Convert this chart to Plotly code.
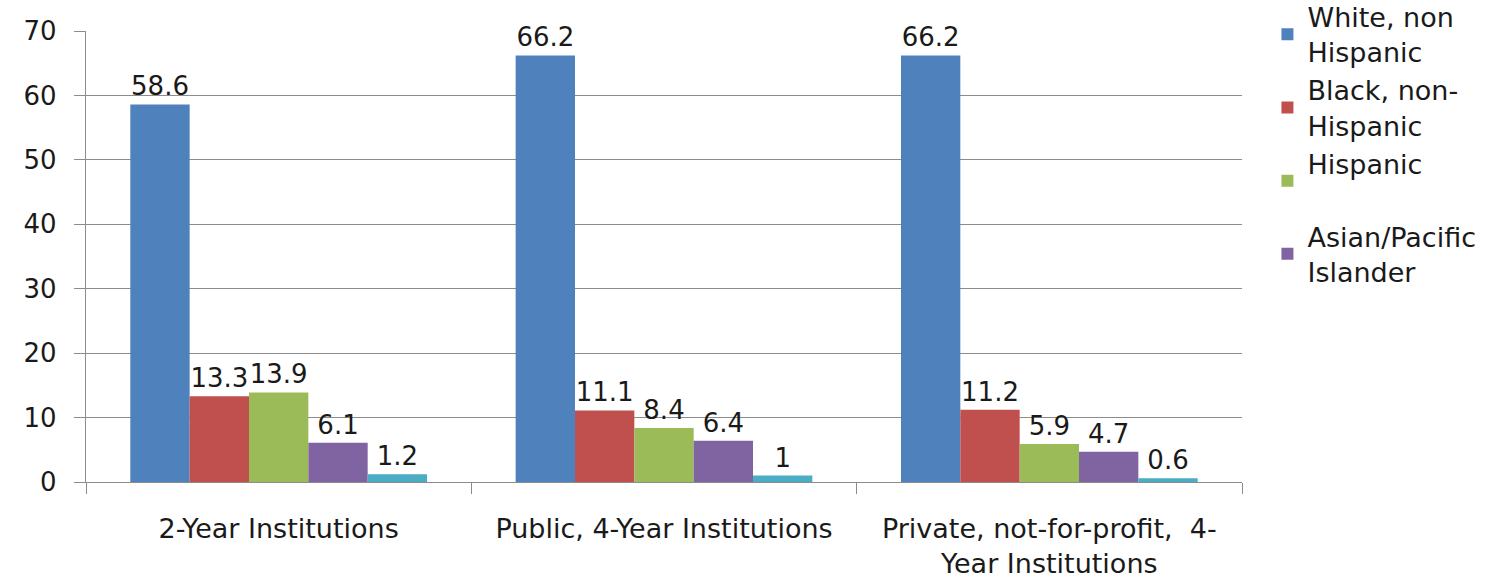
import plotly.graph_objects as go

categories = ["2-Year Institutions", "Public, 4-Year Institutions",
              "Private, not-for-profit,  4-<br>Year Institutions"]
series_names = ["White, non<br>Hispanic", "Black, non-<br>Hispanic", "Hispanic<br> ",
                "Asian/Pacific<br>Islander", "American Indian/<br>Alaska Native"]
white = [58.6, 66.2, 66.2]
black = [13.3, 11.1, 11.2]
hispanic = [13.9, 8.4, 5.9]
asian = [6.1, 6.4, 4.7]
native = [1.2, 1, 0.6]
series_values = [white, black, hispanic, asian, native]
colors = ["#4F81BD", "#C0504D", "#9BBB59", "#8064A2", "#4BACC6"]
show_legend = [True, True, True, True, False]

FONT = "DejaVu Sans"
TXT = "#1a1a1a"

fig = go.Figure()
for name, vals, col, sl in zip(series_names, series_values, colors, show_legend):
    fig.add_trace(go.Bar(
        x=categories, y=vals, name=name, marker_color=col,
        marker_line_width=0, showlegend=sl,
        text=[f"{v:g}" for v in vals], textposition="outside",
        textfont=dict(family=FONT, size=26, color=TXT),
        cliponaxis=False,
    ))

fig.update_layout(
    width=1505, height=584,
    margin=dict(l=86, r=263, t=31, b=102, autoexpand=False),
    paper_bgcolor="white", plot_bgcolor="white",
    barmode="group", bargap=0.23, bargroupgap=0,
    font=dict(family=FONT, size=24, color=TXT),
    legend=dict(
        x=1.022, y=1.085, xanchor="left", yanchor="top",
        font=dict(family=FONT, size=27, color=TXT),
        itemsizing="constant", tracegroupgap=0,
        bgcolor="rgba(0,0,0,0)", maxheight=584,
    ),
)
fig.update_yaxes(
    range=[0, 70], dtick=10, showgrid=True, gridcolor="#8c8c8c", gridwidth=1.3,
    showline=True, linecolor="#8c8c8c", linewidth=1.3,
    ticks="outside", ticklen=11, tickcolor="#8c8c8c",
    ticklabelstandoff=12,
    tickfont=dict(family=FONT, size=26, color=TXT),
    zeroline=False,
)
fig.update_xaxes(
    showline=True, linecolor="#8c8c8c", linewidth=1.3,
    ticks="outside", ticklen=11, tickcolor="#8c8c8c", tickson="boundaries",
    ticklabelstandoff=22,
    tickfont=dict(family=FONT, size=27, color=TXT),
    mirror=False,
)

fig.write_html("out.html")
